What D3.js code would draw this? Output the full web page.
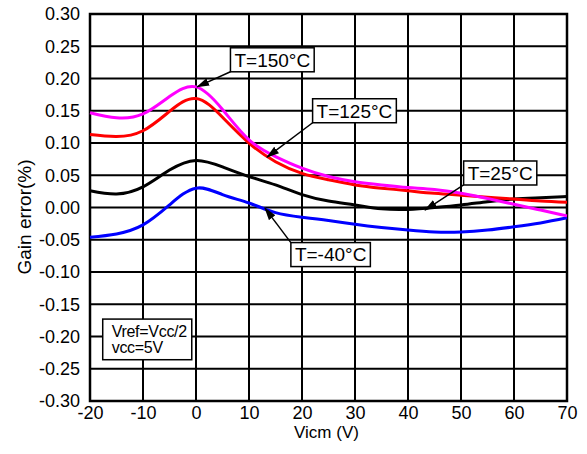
<!DOCTYPE html>
<html>
<head>
<meta charset="utf-8">
<script src="https://cdn.jsdelivr.net/npm/d3@7"></script>
<style>
  body { margin: 0; background: #fff; }
  svg { display: block; font-family: "Liberation Sans", Arial, sans-serif; }
</style>
</head>
<body>
<svg id="chart" width="587" height="454"></svg>
<script>
// Vicm sample points (V)
const vicm = [-20, -15, -10, -5, 0, 5, 10, 15, 20, 25, 30, 35, 40, 45, 50, 55, 60, 65, 70];

// gain error (%) for each temperature
const gain150 = [0.147, 0.139, 0.145, 0.172, 0.187, 0.152, 0.105, 0.079, 0.061, 0.048, 0.040, 0.035, 0.031, 0.028, 0.022, 0.014, 0.005, -0.004, -0.013];
const gain125 = [0.113, 0.110, 0.119, 0.149, 0.169, 0.140, 0.100, 0.071, 0.053, 0.043, 0.035, 0.030, 0.026, 0.022, 0.019, 0.016, 0.013, 0.010, 0.008];
const gain25  = [0.026, 0.021, 0.032, 0.058, 0.073, 0.063, 0.048, 0.035, 0.020, 0.010, 0.004, -0.002, -0.003, 0.000, 0.004, 0.009, 0.013, 0.015, 0.017];
const gainM40 = [-0.046, -0.041, -0.027, 0.004, 0.030, 0.020, 0.007, -0.008, -0.015, -0.020, -0.026, -0.031, -0.035, -0.038, -0.038, -0.035, -0.030, -0.024, -0.016];

const xTicks = [-20, -10, 0, 10, 20, 30, 40, 50, 60, 70];
const yTicks = [0.30, 0.25, 0.20, 0.15, 0.10, 0.05, 0.00, -0.05, -0.10, -0.15, -0.20, -0.25, -0.30];
const yTickLabels = ["0.30", "0.25", "0.20", "0.15", "0.10", "0.05", "0.00", "-0.05", "-0.10", "-0.15", "-0.20", "-0.25", "-0.30"];

// callouts: label centre and arrow target, in data units
const labels = ["T=150°C", "T=125°C", "T=25°C", "T=-40°C"];
const labelX = [14.4, 29.9, 57.4, 25.4];
const labelY = [0.229, 0.150, 0.0535, -0.073];
const targetX = [0.2, 13.4, 43.2, 13.0];
const targetY = [0.187, 0.078, -0.004, -0.001];

const noteLines = ["Vref=Vcc/2", "vcc=5V"];

const series = [
  { values: gainM40, color: "#0000ff" },
  { values: gain25, color: "#000000" },
  { values: gain125, color: "#ff0000" },
  { values: gain150, color: "#ff00ff" }
];

const margin = { top: 14, right: 20, bottom: 53, left: 90 };
const width = 587 - margin.left - margin.right;
const height = 454 - margin.top - margin.bottom;

const svg = d3.select("#chart");
const g = svg.append("g").attr("transform", `translate(${margin.left},${margin.top})`);

const x = d3.scaleLinear().domain([-20, 70]).range([0, width]);
const y = d3.scaleLinear().domain([-0.30, 0.30]).range([height, 0]);

// grid
g.append("g").selectAll("line").data(xTicks).join("line")
    .attr("x1", d => x(d)).attr("x2", d => x(d))
    .attr("y1", 0).attr("y2", height)
    .attr("stroke", "#000").attr("stroke-width", 2);
g.append("g").selectAll("line").data(yTicks).join("line")
    .attr("x1", 0).attr("x2", width)
    .attr("y1", d => y(d)).attr("y2", d => y(d))
    .attr("stroke", "#000").attr("stroke-width", 2);

// axes (labels only)
const xAxis = g.append("g")
    .attr("transform", `translate(0,${height})`)
    .call(d3.axisBottom(x).tickValues(xTicks).tickSize(0).tickPadding(5).tickFormat(d3.format("d")));
const yAxis = g.append("g")
    .call(d3.axisLeft(y).tickValues(yTicks).tickSize(0).tickPadding(10)
      .tickFormat((d, i) => yTickLabels[i]));
[xAxis, yAxis].forEach(a => {
  a.select(".domain").remove();
  a.selectAll("text").attr("font-size", 18).attr("font-family", "Liberation Sans, Arial, sans-serif").attr("fill", "#000");
});
xAxis.selectAll("text").text(d => String(d).replace("\u2212", "-"));

// frame
g.append("rect")
    .attr("width", width).attr("height", height)
    .attr("fill", "none").attr("stroke", "#000").attr("stroke-width", 2.5);

// curves
const line = d3.line()
    .x((d, i) => x(vicm[i]))
    .y(d => y(d))
    .curve(d3.curveNatural);

g.append("g").selectAll("path").data(series).join("path")
    .attr("d", d => line(d.values))
    .attr("fill", "none")
    .attr("stroke", d => d.color)
    .attr("stroke-width", 3);

// arrowhead
svg.append("defs").append("marker")
    .attr("id", "arrow")
    .attr("markerUnits", "userSpaceOnUse")
    .attr("markerWidth", 13).attr("markerHeight", 8)
    .attr("refX", 12).attr("refY", 4)
    .attr("orient", "auto")
  .append("path")
    .attr("d", "M0,0L13,4L0,8Z")
    .attr("fill", "#000");

// callouts
labels.forEach((txt, i) => {
  const cg = g.append("g");
  const cx = x(labelX[i]), cy = y(labelY[i]);
  const t = cg.append("text")
      .attr("x", cx).attr("y", cy)
      .attr("dy", "0.36em")
      .attr("text-anchor", "middle")
      .attr("font-size", 19)
      .text(txt);
  const bb = t.node().getBBox();
  const bw = bb.width + 8, bh = 24;
  const left = cx - bw / 2, top = cy - bh / 2;
  const tx = x(targetX[i]), ty = y(targetY[i]);
  const sy = ty > cy ? top + bh : top;
  cg.insert("line", "text")
      .attr("x1", left).attr("y1", sy)
      .attr("x2", tx).attr("y2", ty)
      .attr("stroke", "#000").attr("stroke-width", 1.5)
      .attr("marker-end", "url(#arrow)");
  cg.insert("rect", "text")
      .attr("x", left).attr("y", top)
      .attr("width", bw).attr("height", bh)
      .attr("fill", "#fff").attr("stroke", "#000").attr("stroke-width", 1.5);
});

// note box
const nx0 = x(-17.6), nx1 = x(-0.8), ny0 = y(-0.173), ny1 = y(-0.236);
g.append("rect")
    .attr("x", nx0).attr("y", ny0)
    .attr("width", nx1 - nx0).attr("height", ny1 - ny0)
    .attr("fill", "#fff").attr("stroke", "#000").attr("stroke-width", 1.5);
g.append("g").selectAll("text").data(noteLines).join("text")
    .attr("x", nx0 + 9)
    .attr("y", (d, i) => ny0 + 18 + i * 16)
    .attr("font-size", 16)
    .attr("letter-spacing", -0.3)
    .text(d => d);

// axis titles
svg.append("text")
    .attr("x", margin.left + width / 2 - 2).attr("y", 438)
    .attr("text-anchor", "middle")
    .attr("font-size", 17)
    .text("Vicm (V)");
svg.append("text")
    .attr("transform", `translate(31,217) rotate(-90)`)
    .attr("text-anchor", "middle")
    .attr("font-size", 19)
    .text("Gain error(%)");
</script>
</body>
</html>
